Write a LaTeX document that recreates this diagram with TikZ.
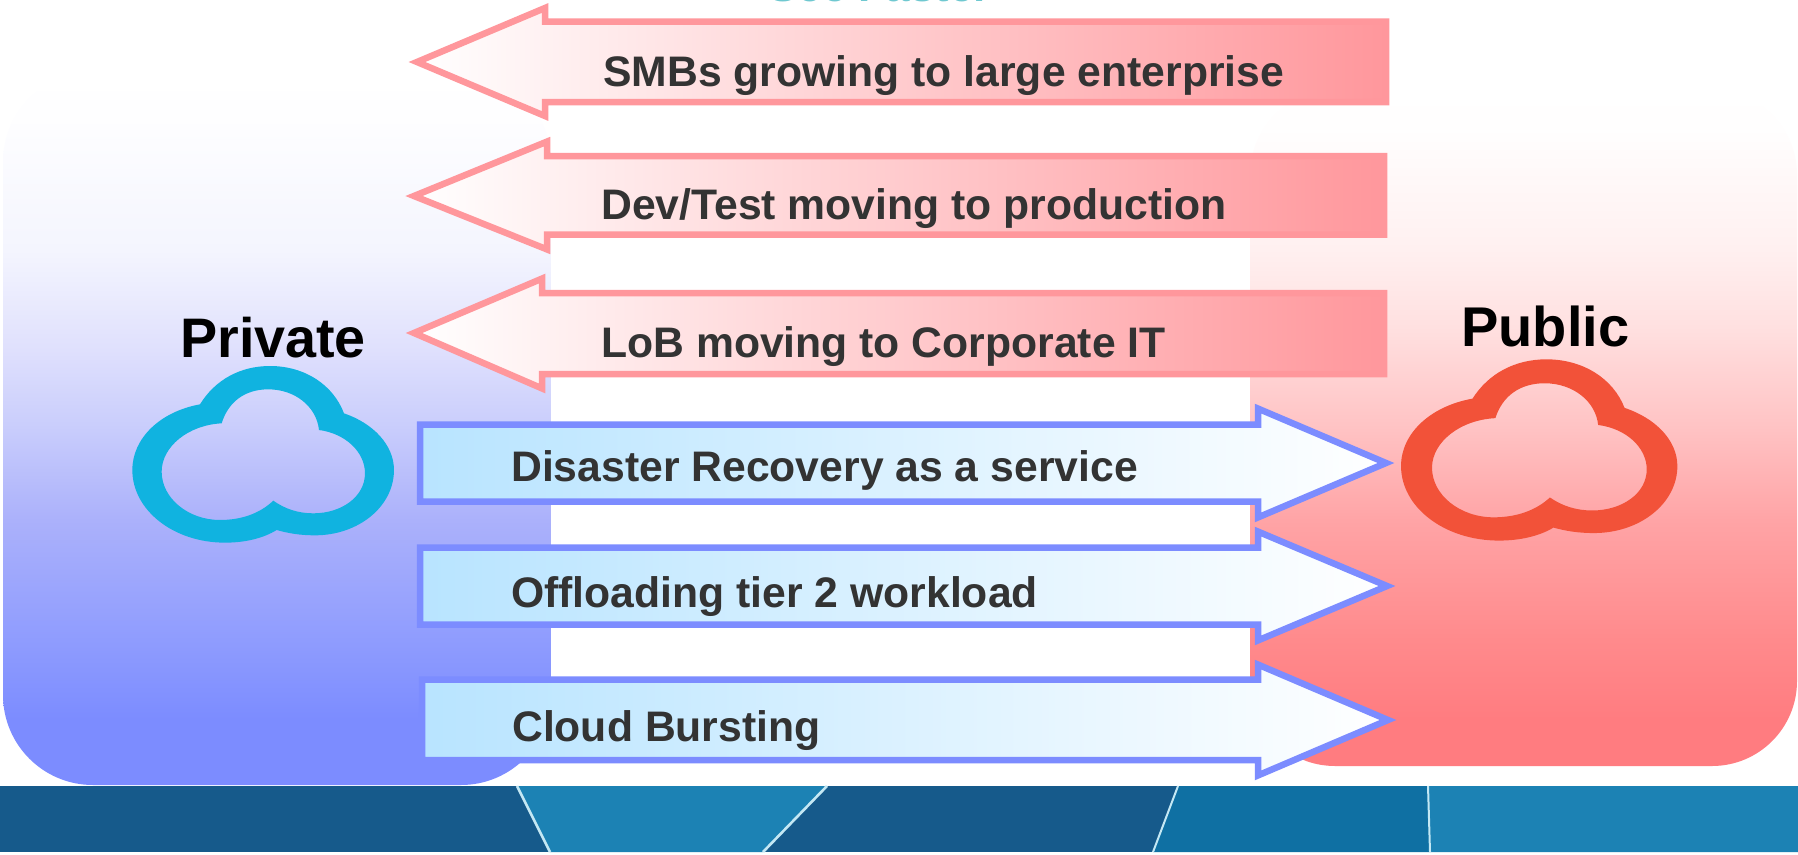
\documentclass[tikz,border=0pt]{standalone}
\usepackage{fontspec}
\setmainfont{Liberation Sans}
\definecolor{redline}{HTML}{FF979C}
\definecolor{redmid}{HTML}{FFCDD0}
\definecolor{blueline}{HTML}{7C8CFF}
\definecolor{bluefill}{HTML}{B8E4FF}
\definecolor{bluemid}{HTML}{DDF1FF}
\definecolor{txt}{HTML}{333333}
\definecolor{cyancloud}{HTML}{10B3E0}
\definecolor{redcloud}{HTML}{F25239}
\definecolor{banddark}{HTML}{165A8B}
\definecolor{bandmid}{HTML}{1C82B4}
\definecolor{bandteal}{HTML}{0F70A3}
\definecolor{bandline}{HTML}{C4E8F4}
\definecolor{topcyan}{HTML}{6FC8D0}
\pgfdeclareverticalshading{privgrad}{100bp}{
 rgb(0bp)=(0.486,0.549,1);
 rgb(29.6bp)=(0.486,0.549,1);
 rgb(35.2bp)=(0.561,0.612,0.996);
 rgb(43.6bp)=(0.671,0.694,0.984);
 rgb(50.1bp)=(0.788,0.804,0.988);
 rgb(55.5bp)=(0.875,0.878,0.992);
 rgb(62.5bp)=(0.957,0.961,0.996);
 rgb(71.6bp)=(0.995,0.995,1);
 rgb(75bp)=(1,1,1);
 rgb(100bp)=(1,1,1)}
\pgfdeclareverticalshading{pubgrad}{100bp}{
 rgb(0bp)=(1,0.486,0.502);
 rgb(28.4bp)=(1,0.486,0.502);
 rgb(34.3bp)=(1,0.541,0.549);
 rgb(43.2bp)=(1,0.643,0.651);
 rgb(50.1bp)=(1,0.765,0.769);
 rgb(57.2bp)=(1,0.875,0.875);
 rgb(63.2bp)=(1,0.941,0.941);
 rgb(72bp)=(1,0.995,0.995);
 rgb(75bp)=(1,1,1);
 rgb(100bp)=(1,1,1)}
\newcommand{\myCloudPath}{
   (240,163) .. controls (285,90) and (360,48) .. (450,48)
   .. controls (555,48) and (640,105) .. (672,190)
   .. controls (760,220) and (822,285) .. (822,360)
   .. controls (822,470) and (715,556) .. (585,556)
   .. controls (540,556) and (505,550) .. (470,540)
   .. controls (430,565) and (375,578) .. (315,578)
   .. controls (160,578) and (37,480) .. (37,360)
   .. controls (37,265) and (120,185) .. (240,163) -- cycle
   (305,220) .. controls (325,155) and (375,118) .. (445,118)
   .. controls (525,118) and (590,170) .. (597,240)
   .. controls (675,250) and (735,305) .. (735,370)
   .. controls (735,440) and (665,490) .. (580,490)
   .. controls (535,490) and (495,477) .. (460,452)
   .. controls (420,490) and (365,510) .. (300,510)
   .. controls (205,510) and (125,445) .. (125,365)
   .. controls (125,290) and (205,225) .. (305,220) -- cycle}
\tikzset{
 redarrow/.style={draw=redline,line width=6.5pt,left color=white,middle color=redmid,right color=redline,miter limit=10},
 bluearrow/.style={draw=blueline,line width=6.5pt,left color=bluefill,middle color=bluemid,right color=white,miter limit=10},
 label/.style={inner sep=0pt,anchor=base west,text=txt,font=\bfseries\fontsize{42.7}{50}\selectfont},
 title/.style={inner sep=0pt,anchor=base west,text=black,font=\bfseries\fontsize{#1}{60}\selectfont}
}
\begin{document}
\begin{tikzpicture}[x=1pt,y=-1pt]
\useasboundingbox (0,0) rectangle (1798,854);
\clip (0,0) rectangle (1798,854);
\fill[white] (0,0) rectangle (1798,854);
% panels
\path[shading=privgrad,rounded corners=90pt] (3,72) rectangle (551,785);
\path[shading=pubgrad,rounded corners=85pt] (1250,90) rectangle (1797,766);
\fill[white] (551,0) rectangle (1250,786);
% band
\fill[banddark] (0,786) rectangle (1798,852);
\fill[bandmid] (517,786) -- (827,786) -- (763,852) -- (550,852) -- cycle;
\fill[bandteal] (1178,786) -- (1428,786) -- (1430,852) -- (1153,852) -- cycle;
\fill[bandmid] (1428,786) -- (1798,786) -- (1798,852) -- (1430,852) -- cycle;
\draw[bandline,line width=2.6pt] (517,786) -- (550,852);
\draw[bandline,line width=2.6pt] (827,786) -- (763,852);
\draw[bandline,line width=2pt] (1178,786) -- (1153,852);
\draw[bandline,line width=2pt] (1428,786) -- (1430,852);
% cut-off heading
\node[inner sep=0pt,anchor=base west,text=topcyan,font=\bfseries\fontsize{44}{50}\selectfont] (head) at (768,1.5) {See Faster};
% clouds
\begin{scope}[x=0.3333pt,y=-0.3333pt,xshift=120pt,yshift=-350pt]
\fill[cyancloud,even odd rule] \myCloudPath;
\end{scope}
\begin{scope}[x=0.352pt,y=-0.342pt,xshift=1388pt,yshift=-342.9pt]
\fill[redcloud,even odd rule] \myCloudPath;
\end{scope}
% left arrows
\path[redarrow] (417,62) -- (545,8) -- (545,21.5) -- (1386,21.5) -- (1386,102) -- (545,102) -- (545,116) -- cycle;
\path[redarrow] (414,196) -- (547,141.6) -- (547,156) -- (1384,156) -- (1384,234.5) -- (547,234.5) -- (547,249.4) -- cycle;
\path[redarrow] (414,333) -- (542,278.6) -- (542,293) -- (1384,293) -- (1384,374) -- (542,374) -- (542,388.4) -- cycle;
% right arrows
\path[bluearrow] (1386,463) -- (1258,408.6) -- (1258,424.5) -- (420,424.5) -- (420,501.5) -- (1258,501.5) -- (1258,517.4) -- cycle;
\path[bluearrow] (1387,586) -- (1258,531.6) -- (1258,547.5) -- (420,547.5) -- (420,624.5) -- (1258,624.5) -- (1258,640.4) -- cycle;
\path[bluearrow] (1388,720) -- (1258,664.6) -- (1258,679.5) -- (422,679.5) -- (422,760) -- (1258,760) -- (1258,775.4) -- cycle;
% labels
\node[label] (smb) at (603,86) {SMBs growing to large enterprise};
\node[label] (dev) at (601,219) {Dev/Test moving to production};
\node[label] (lob) at (601,357) {LoB moving to Corporate IT};
\node[label] (dis) at (511,481) {Disaster Recovery as a service};
\node[label] (off) at (511,607) {Offloading tier 2 workload};
\node[label] (bur) at (512,741) {Cloud Bursting};
\node[title=55.7] (priv) at (180,357) {Private};
\node[title=56] (pub) at (1461,346) {Public};
\end{tikzpicture}
\end{document}
